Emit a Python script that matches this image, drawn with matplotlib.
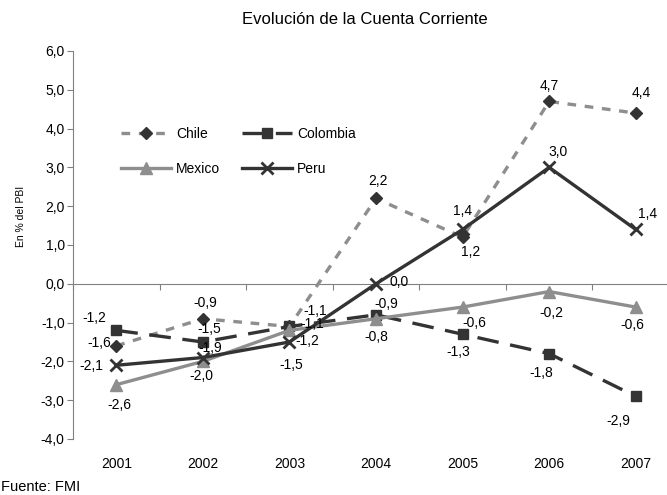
import matplotlib
matplotlib.use("Agg")
import matplotlib.pyplot as plt

plt.rcParams['font.family'] = ['Liberation Sans', 'DejaVu Sans']

# Cuenta corriente, en % del PBI
years = ['2001', '2002', '2003', '2004', '2005', '2006', '2007']
chile = [-1.6, -0.9, -1.1, 2.2, 1.2, 4.7, 4.4]
colombia = [-1.2, -1.5, -1.1, -0.8, -1.3, -1.8, -2.9]
mexico = [-2.6, -2.0, -1.2, -0.9, -0.6, -0.2, -0.6]
peru = [-2.1, -1.9, -1.5, 0.0, 1.4, 3.0, 1.4]

# label offsets (pixels) for each data label
chile_off = [(-17, 3), (2, 16), (26, 15), (2, 17), (8, -15), (0, 15), (6, 20)]
colombia_off = [(-22, 12), (6, 13), (23, 2), (0, -22), (-4, -18), (-8, -19), (-17, -25)]
mexico_off = [(3, -20), (-1, -15), (18, -11), (10, 15), (12, -16), (2, -21), (-3, -18)]
peru_off = [(-25, -1), (7, 10), (2, -23), (23, 2), (0, 18), (9, 15), (12, 15)]

dark = '#333333'
gray = '#8e8e8e'
axc = '#808080'

fig = plt.figure(figsize=(6.67, 4.95), dpi=100)
ax = fig.add_axes([73 / 667, 56 / 495, 606 / 667, 388 / 495])

x = range(len(years))
l1, = ax.plot(x, chile, color=gray, lw=2.4, ls=(0, (2.6, 2.6)),
              marker='D', ms=6, mfc=dark, mec=dark, label='Chile')
l2, = ax.plot(x, colombia, color=dark, lw=2.4, ls=(0, (6.5, 3.5)),
              marker='s', ms=7, mfc=dark, mec=dark, label='Colombia')
l3, = ax.plot(x, mexico, color=gray, lw=2.4, marker='^', ms=8,
              mfc=gray, mec=gray, label='Mexico')
l4, = ax.plot(x, peru, color=dark, lw=2.4, marker='x', ms=9, mew=2,
              mec=dark, label='Peru')

px = 72 / 100  # pixels -> points
for vals, offs in [(chile, chile_off), (colombia, colombia_off),
                   (mexico, mexico_off), (peru, peru_off)]:
    for i, v in enumerate(vals):
        ax.annotate(f'{v:.1f}'.replace('.', ','), (i, v),
                    xytext=(offs[i][0] * px, offs[i][1] * px),
                    textcoords='offset points', ha='center', va='center',
                    fontsize=10, color='black')

ax.set_xlim(-0.5, 6.5)
ax.set_ylim(-4, 6)
ax.set_yticks(range(-4, 7))
ax.set_yticklabels([f'{v:.1f}'.replace('.', ',') for v in range(-4, 7)])
ax.set_xticks(list(x))
ax.set_xticklabels(years)

for s in ['top', 'right', 'bottom']:
    ax.spines[s].set_visible(False)
ax.spines['left'].set_color(axc)
ax.tick_params(axis='y', length=4, color=axc, labelsize=10, pad=2)
ax.tick_params(axis='x', length=0, labelsize=10, pad=13)

# horizontal axis line at zero with category boundary ticks
sec = ax.secondary_xaxis(0.4)
sec.set_xticks([i - 0.5 for i in range(len(years) + 1)])
sec.set_xticklabels([])
sec.spines['bottom'].set_color(axc)
sec.tick_params(axis='x', length=4, color=axc, direction='out')

fig.text(21 / 667, 1 - 216 / 495, 'En % del PBI', rotation=90,
         ha='center', va='center', fontsize=7.5)

# legend filled column-wise: Chile/Mexico, Colombia/Peru
leg = ax.legend(handles=[l1, l3, l2, l4], ncol=2, frameon=False,
                loc='upper left', bbox_to_anchor=(0.059, 0.837),
                handlelength=3.6, columnspacing=1.6, labelspacing=1.5,
                handletextpad=0.35, fontsize=10)

fig.text(365 / 667, 1 - 20 / 495, 'Evolución de la Cuenta Corriente',
         ha='center', va='center', fontsize=12)
fig.text(0.002, 1 - 487 / 495, 'Fuente: FMI', ha='left', va='center',
         fontsize=10.5)

fig.savefig('out.png', dpi=100)
